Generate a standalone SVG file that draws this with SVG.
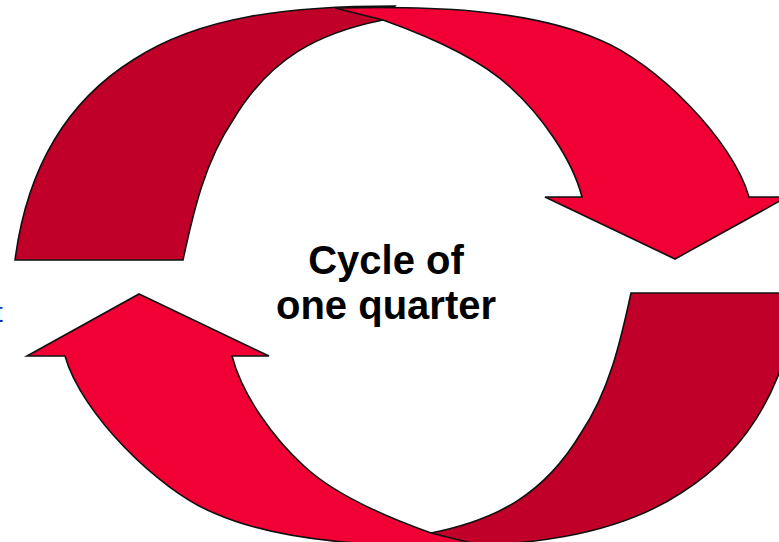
<svg xmlns="http://www.w3.org/2000/svg" width="779" height="542" viewBox="0 0 779 542">
  <style>
    .dark { fill: #C00028; stroke: #111; stroke-width: 1.6; stroke-linejoin: miter; }
    .bright { fill: #F00034; stroke: #111; stroke-width: 1.6; stroke-linejoin: miter; }
    .label { font-family: "Liberation Sans", Arial, sans-serif; font-weight: bold; font-size: 40px; fill: #000; text-anchor: middle; }
  </style>
  <defs>
    <path id="darkPart" d="M15,260 C27,168 66,102 133,60 C200,16 290,6 395,6 L383,20 C318,33 270,58 233,120 C205,161.5 193.5,211 183,260 Z"/>
    <path id="brightPart" d="M335,8 C425,6 527,8 600,40 C656,63 733,140 749,197 L787,197 L675,259 L545,197 L582,197 C572,158 540,114 510,87 C478,57 425,35 383,20 Z"/>
  </defs>
  <rect width="779" height="542" fill="#FFFFFF"/>
  <g id="arrow-top">
    <use href="#darkPart" class="dark"/>
    <use href="#brightPart" class="bright"/>
  </g>
  <g id="arrow-bottom" transform="rotate(180 407 276.5)">
    <use href="#darkPart" class="dark"/>
    <use href="#brightPart" class="bright"/>
  </g>
  <g id="label">
    <text class="label" x="386" y="274">Cycle of</text>
    <text class="label" x="386" y="319">one quarter</text>
  </g>
  <g id="cut-text">
    <text x="-5" y="322" font-family="Liberation Sans, Arial, sans-serif" font-size="28" fill="#1a2aa8">t</text>
  </g>
</svg>
